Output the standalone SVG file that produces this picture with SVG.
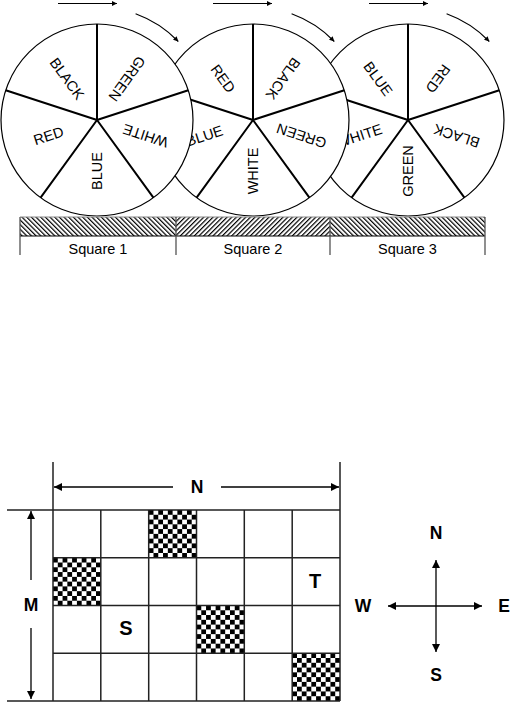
<svg xmlns="http://www.w3.org/2000/svg" width="512" height="702" viewBox="0 0 512 702">
<style>
.rim{fill:#fff;stroke:#000;stroke-width:1.2}
.spoke{stroke:#000;stroke-width:2;fill:none}
.lbl{font-family:"Liberation Sans",Arial,sans-serif;font-size:14.5px;fill:#000;text-anchor:middle}
.sq{font-family:"Liberation Sans",Arial,sans-serif;font-size:14.5px;fill:#000;text-anchor:middle}
.big{font-family:"Liberation Sans",Arial,sans-serif;font-weight:bold;font-size:17.5px;fill:#000;text-anchor:middle}
.bigger{font-family:"Liberation Sans",Arial,sans-serif;font-weight:bold;font-size:20px;fill:#000;text-anchor:middle}
.arr{stroke:#000;stroke-width:1.2;fill:none}
.dim{stroke:#000;stroke-width:1.3;fill:none}
.grid{stroke:#222;stroke-width:1.5;fill:none}
</style>
<defs>
<marker id="small" markerUnits="userSpaceOnUse" viewBox="0 0 10 10" refX="10" refY="5" markerWidth="7" markerHeight="5" orient="auto">
<path d="M0,0 L10,5 L0,10 z" fill="#000"/>
</marker>
<marker id="head" markerUnits="userSpaceOnUse" viewBox="0 0 10 10" refX="10" refY="5" markerWidth="9" markerHeight="8" orient="auto">
<path d="M0,0 L10,5 L0,10 z" fill="#000"/>
</marker>
<pattern id="hatchB" patternUnits="userSpaceOnUse" width="3.3" height="3.3" patternTransform="rotate(-45)">
<line x1="0.6" y1="0" x2="0.6" y2="3.3" stroke="#000" stroke-width="1.2"/>
</pattern>
<pattern id="hatchF" patternUnits="userSpaceOnUse" width="3.3" height="3.3" patternTransform="rotate(45)">
<line x1="0.6" y1="0" x2="0.6" y2="3.3" stroke="#000" stroke-width="1.2"/>
</pattern>
<pattern id="checker" patternUnits="objectBoundingBox" patternContentUnits="objectBoundingBox" width="0.2" height="0.2">
<rect x="0" y="0" width="0.2" height="0.2" fill="#fff"/>
<rect x="0" y="0" width="0.1" height="0.1" fill="#000"/>
<rect x="0.1" y="0.1" width="0.1" height="0.1" fill="#000"/>
</pattern>
</defs>

<g id="wheel3" transform="translate(408,120)">
<circle class="rim" cx="0" cy="0" r="96"/>
<path class="spoke" d="M0,0 L0,-96 M0,0 L91.3,-29.7 M0,0 L56.4,77.7 M0,0 L-56.4,77.7 M0,0 L-91.3,-29.7"/>
<text class="lbl" dy="5" transform="translate(30,-41.3) rotate(126)">RED</text>
<text class="lbl" dy="5" transform="translate(48.5,15.8) rotate(198)">BLACK</text>
<text class="lbl" dy="5" transform="translate(0,51) rotate(270)">GREEN</text>
<text class="lbl" dy="5" transform="translate(-48.5,15.8) rotate(342)">WHITE</text>
<text class="lbl" dy="5" transform="translate(-30,-41.3) rotate(54)">BLUE</text>
</g>
<g id="wheel2" transform="translate(253,120)">
<circle class="rim" cx="0" cy="0" r="96"/>
<path class="spoke" d="M0,0 L0,-96 M0,0 L91.3,-29.7 M0,0 L56.4,77.7 M0,0 L-56.4,77.7 M0,0 L-91.3,-29.7"/>
<text class="lbl" dy="5" transform="translate(30,-41.3) rotate(126)">BLACK</text>
<text class="lbl" dy="5" transform="translate(48.5,15.8) rotate(198)">GREEN</text>
<text class="lbl" dy="5" transform="translate(0,51) rotate(270)">WHITE</text>
<text class="lbl" dy="5" transform="translate(-48.5,15.8) rotate(342)">BLUE</text>
<text class="lbl" dy="5" transform="translate(-30,-41.3) rotate(54)">RED</text>
</g>
<g id="wheel1" transform="translate(97,120)">
<circle class="rim" cx="0" cy="0" r="96"/>
<path class="spoke" d="M0,0 L0,-96 M0,0 L91.3,-29.7 M0,0 L56.4,77.7 M0,0 L-56.4,77.7 M0,0 L-91.3,-29.7"/>
<text class="lbl" dy="5" transform="translate(30,-41.3) rotate(126)">GREEN</text>
<text class="lbl" dy="5" transform="translate(48.5,15.8) rotate(198)">WHITE</text>
<text class="lbl" dy="5" transform="translate(0,51) rotate(270)">BLUE</text>
<text class="lbl" dy="5" transform="translate(-48.5,15.8) rotate(342)">RED</text>
<text class="lbl" dy="5" transform="translate(-30,-41.3) rotate(54)">BLACK</text>
</g>

<g id="motion-arrows">
<path class="arr" d="M58,3.5 L117,3.5" marker-end="url(#small)"/>
<path class="arr" d="M135.6,13.8 A113,113 0 0 1 178.3,41.5" marker-end="url(#small)"/>
<path class="arr" d="M213,3.5 L272,3.5" marker-end="url(#small)"/>
<path class="arr" d="M291.6,13.8 A113,113 0 0 1 334.3,41.5" marker-end="url(#small)"/>
<path class="arr" d="M369,3.5 L428,3.5" marker-end="url(#small)"/>
<path class="arr" d="M446.6,13.8 A113,113 0 0 1 489.3,41.5" marker-end="url(#small)"/>
</g>

<g id="track">
<rect x="20" y="217" width="156" height="19" fill="url(#hatchB)"/>
<rect x="176" y="217" width="154" height="19" fill="url(#hatchF)"/>
<rect x="330" y="217" width="155" height="19" fill="url(#hatchB)"/>
<line x1="20" y1="217" x2="485" y2="217" stroke="#888" stroke-width="1"/>
<line x1="20" y1="236" x2="485" y2="236" stroke="#000" stroke-width="1.2"/>
<path d="M20,217 V255 M176,217 V255 M330,217 V255 M485,217 V255" stroke="#555" stroke-width="1.3" fill="none"/>
<text class="sq" x="98" y="254">Square 1</text>
<text class="sq" x="253" y="254">Square 2</text>
<text class="sq" x="407.5" y="254">Square 3</text>
</g>

<g id="grid">
<rect x="148.7" y="510" width="47.8" height="47.75" fill="url(#checker)"/>
<rect x="53" y="557.75" width="47.8" height="47.75" fill="url(#checker)"/>
<rect x="196.5" y="605.5" width="47.8" height="47.75" fill="url(#checker)"/>
<rect x="292.2" y="653.25" width="47.8" height="47.75" fill="url(#checker)"/>
<path class="grid" d="M53,462 V701 M340,462 V701 M100.8,510 V701 M148.7,510 V701 M196.5,510 V701 M244.3,510 V701 M292.2,510 V701"/>
<path class="grid" d="M7,510 H340 M7,701 H340 M53,557.75 H340 M53,605.5 H340 M53,653.25 H340"/>
<text class="bigger" x="315" y="588">T</text>
<text class="bigger" x="126" y="635">S</text>
</g>

<g id="dimensions">
<path class="dim" d="M173,487 L54,487" marker-end="url(#head)"/>
<path class="dim" d="M221,487 L339,487" marker-end="url(#head)"/>
<text class="big" x="197" y="493">N</text>
<path class="dim" d="M31,580 L31,511" marker-end="url(#head)"/>
<path class="dim" d="M31,628 L31,699" marker-end="url(#head)"/>
<text class="big" x="31" y="611">M</text>
</g>

<g id="compass">
<path class="dim" d="M436,606 L436,560" marker-end="url(#head)"/>
<path class="dim" d="M436,606 L436,652" marker-end="url(#head)"/>
<path class="dim" d="M436,606 L388,606" marker-end="url(#head)"/>
<path class="dim" d="M436,606 L482,606" marker-end="url(#head)"/>
<text class="big" x="436" y="539">N</text>
<text class="big" x="436" y="681">S</text>
<text class="big" x="363" y="612">W</text>
<text class="big" x="504" y="612">E</text>
</g>
</svg>
